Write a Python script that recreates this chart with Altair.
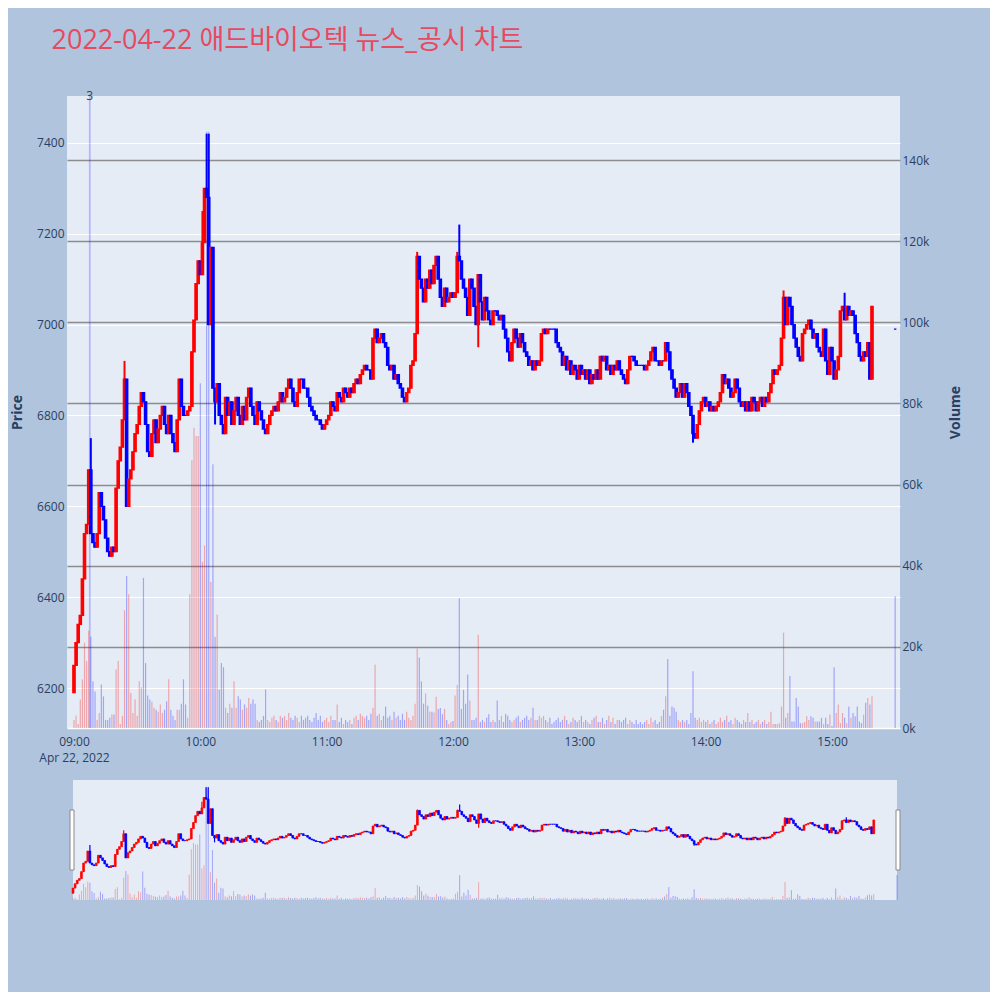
import altair as alt
import pandas as pd

title_text = "2022-04-22 애드바이오텍 뉴스_공시 차트"
session_day = "2022-04-22"
date_label = "Apr 22, 2022"

first_open = 6190
# one close per minute from 09:00 to 15:19
closes = [
    6250, 6300, 6340, 6360, 6440, 6540, 6560, 6680, 6540, 6520,
    6510, 6540, 6630, 6600, 6570, 6530, 6500, 6490, 6510, 6500,
    6640, 6700, 6730, 6790, 6880, 6600, 6660, 6680, 6720, 6760,
    6780, 6820, 6850, 6830, 6780, 6720, 6710, 6760, 6790, 6740,
    6770, 6800, 6820, 6780, 6760, 6800, 6760, 6740, 6720, 6790,
    6880, 6820, 6800, 6800, 6810, 6820, 6940, 7010, 7090, 7140,
    7110, 7180, 7300, 7280, 7000, 7170, 6860, 6830, 6870, 6800,
    6780, 6760, 6840, 6800, 6830, 6780, 6810, 6840, 6800, 6780,
    6820, 6790, 6840, 6860, 6820, 6800, 6780, 6830, 6810, 6790,
    6770, 6760, 6780, 6800, 6810, 6820, 6810, 6830, 6850, 6830,
    6840, 6860, 6880, 6860, 6830, 6820, 6850, 6880, 6880, 6860,
    6860, 6840, 6820, 6810, 6800, 6790, 6790, 6780, 6770, 6780,
    6790, 6800, 6830, 6820, 6810, 6850, 6840, 6830, 6860, 6850,
    6840, 6860, 6850, 6870, 6880, 6870, 6890, 6900, 6910, 6900,
    6900, 6880, 6970, 6990, 6960, 6970, 6980, 6960, 6950, 6910,
    6900, 6910, 6880, 6890, 6870, 6860, 6840, 6830, 6850, 6860,
    6910, 6920, 6980, 7150, 7100, 7080, 7050, 7100, 7080, 7120,
    7090, 7130, 7150, 7100, 7060, 7040, 7080, 7050, 7060, 7070,
    7060, 7070, 7150, 7140, 7100, 7080, 7060, 7020, 7100, 7080,
    7040, 7000, 7110, 7050, 7010, 7060, 7030, 7010, 7000, 7030,
    7030, 7020, 7010, 7020, 6990, 6970, 6940, 6920, 6960, 6990,
    6970, 6950, 6980, 6960, 6940, 6930, 6910, 6920, 6900, 6920,
    6910, 6920, 6980, 6990, 6980, 6990, 6990, 6990, 6990, 6960,
    6950, 6940, 6910, 6930, 6900, 6920, 6890, 6910, 6900, 6880,
    6910, 6890, 6900, 6880, 6900, 6870, 6890, 6880, 6900, 6880,
    6930, 6920, 6930, 6900, 6910, 6890, 6910, 6900, 6920, 6900,
    6890, 6880, 6870, 6900, 6930, 6930, 6920, 6910, 6910, 6910,
    6910, 6900, 6910, 6920, 6940, 6950, 6920, 6920, 6910, 6920,
    6920, 6960, 6940, 6900, 6880, 6860, 6840, 6850, 6870, 6840,
    6870, 6850, 6820, 6800, 6760, 6750, 6780, 6810, 6830, 6840,
    6820, 6830, 6810, 6820, 6810, 6820, 6830, 6850, 6890, 6870,
    6880, 6860, 6840, 6850, 6880, 6860, 6830, 6820, 6830, 6810,
    6830, 6810, 6840, 6830, 6810, 6830, 6840, 6820, 6840, 6830,
    6850, 6870, 6900, 6890, 6900, 6910, 6970, 7060, 7000, 7060,
    7040, 7000, 6970, 6950, 6930, 6920, 6980, 6990, 7000, 7010,
    6990, 6970, 6980, 6950, 6940, 6930, 6990, 6920, 6890, 6950,
    6920, 6880, 6900, 6930, 7030, 7040, 7010, 7040, 7020, 7030,
    7020, 6980, 6960, 6930, 6920, 6940, 6930, 6960, 6880, 7040,
]
# volume per minute, thousands of shares
volume_k = [
    2, 3, 1, 7, 12, 21, 16.5, 24, 22.5, 11.5,
    9, 2, 3.7, 10.7, 7.8, 2, 2, 2.5, 3.3, 3.3,
    14.4, 16.5, 1, 3, 29, 37.5, 33, 8.6, 3.7, 7,
    3, 11.5, 10, 37, 16, 8, 7, 6.5, 5, 4.5,
    4, 5.8, 3.7, 4.5, 6.6, 12, 4.5, 3, 2, 4.5,
    4.5, 6, 12, 5.8, 2.5, 33, 66, 74, 72, 72,
    85, 41, 45, 147, 147, 36, 65, 22.5, 28, 9.5,
    16, 15, 5, 3.7, 6, 5, 11.5, 5, 7.8, 7,
    4.5, 5.8, 5, 7.4, 6, 7, 6, 2, 1.5, 2,
    3, 9.5, 2, 1.5, 2.5, 3, 2, 1.5, 3, 2.5,
    3, 2, 3.7, 2.5, 2, 3, 2.5, 1.5, 3, 2,
    2.5, 3, 2, 1.5, 2.5, 3.7, 2, 3, 1.5, 2,
    2.5, 1.5, 3, 2, 2, 5.8, 1.5, 2.5, 1, 2,
    1.5, 2, 1, 2.5, 3, 2, 3.5, 3, 2.5, 3,
    2, 3.5, 5, 15.6, 3, 3.5, 2, 3, 5.3, 2.5,
    3, 2, 4, 2.5, 3, 2, 3.5, 2, 4, 2.5,
    2, 3, 6, 19.6, 17.4, 11.5, 6, 8.5, 5.5, 4,
    4, 3.8, 7.7, 4.7, 4.9, 3.4, 4.7, 2, 1, 1.5,
    1.7, 8, 10.6, 32, 4.7, 9.4, 6, 13.2, 6.8, 2,
    2, 2.5, 23, 1.5, 2, 1.5, 2.5, 3.4, 1.5, 2,
    1.5, 6.8, 2, 3, 1.5, 3.5, 3, 2, 1.5, 2,
    2.5, 3, 1.5, 2, 2.5, 3, 2, 2.5, 5, 2,
    2, 3, 2.5, 3, 2, 1.5, 2.5, 1, 1.5, 2,
    2.5, 1.5, 2, 3, 2, 1, 1.5, 2.5, 2, 1.5,
    2, 3, 1.5, 2, 1.5, 1, 2, 2.5, 3, 1.5,
    1.5, 2.5, 1, 2, 3, 1.5, 2.5, 1, 2, 2,
    1.5, 2, 2.5, 1, 2, 1.5, 1, 2, 1, 1.5,
    1, 1.5, 2, 1, 2.5, 1.5, 2, 1, 1.5, 3,
    4.5, 7.8, 17, 3, 5.3, 5, 4, 2, 1.5, 2,
    1.5, 2, 1, 3.7, 14, 2.5, 2, 2.5, 1.5, 2,
    1.5, 2, 1, 1.5, 2, 1, 1.5, 2.5, 1.5, 2,
    3, 1.5, 2, 1, 2.5, 2, 1.5, 1, 2, 1.5,
    3.7, 1.5, 2, 1, 1.5, 2, 1, 1.5, 2, 1,
    1.5, 4, 1, 1, 1, 1.2, 5.3, 23.5, 2.5, 3.7,
    12.8, 1.6, 1.6, 7.4, 5.3, 1.2, 1.2, 1.5, 2.9, 2,
    2.9, 2.5, 1.6, 1.6, 1.6, 2.5, 1, 2.5, 1, 3.3,
    0.5, 15, 3.7, 5.8, 1.2, 3.7, 2.5, 1.2, 5.3, 2.5,
    3.7, 2.9, 5.3, 1.6, 1.2, 3.3, 6.2, 7.4, 5.8, 7.8,
]
# wicks reaching beyond the body
spike_minute = [8, 24, 61, 63, 64, 163, 182, 183, 337, 366]
spike_high = [6750, 6920, 7250, 7420, 7420, 7160, 7160, 7220, 7075, 7070]
dip_minute = [67, 192, 294]
dip_low = [6780, 6950, 6740]
# closing auction
closing_time = "15:30"
closing_price = 6990
closing_volume_k = 32.5
# news markers
news_time = ["09:07:30"]
news_count = ["3"]

price_ticks = [6200, 6400, 6600, 6800, 7000, 7200, 7400]
volume_ticks = [0, 20000, 40000, 60000, 80000, 100000, 120000, 140000]
hour_ticks = [9, 10, 11, 12, 13, 14, 15]

assert len(closes) == len(volume_k)

rows = []
prev = first_open
base = pd.Timestamp(f"{session_day} 09:00")
for m, c in enumerate(closes):
    o = prev
    rows.append({"t": base + pd.Timedelta(minutes=m), "open": o, "close": c,
                 "high": max(o, c), "low": min(o, c), "volume": volume_k[m] * 1000})
    prev = c
for m, h in zip(spike_minute, spike_high):
    rows[m]["high"] = max(rows[m]["high"], h)
for m, lo in zip(dip_minute, dip_low):
    rows[m]["low"] = min(rows[m]["low"], lo)
rows.append({"t": pd.Timestamp(f"{session_day} {closing_time}"), "open": closing_price,
             "close": closing_price, "high": closing_price, "low": closing_price,
             "volume": closing_volume_k * 1000})
df = pd.DataFrame(rows)
df["dir"] = ["up" if c > o else "down" for o, c in zip(df["open"], df["close"])]

news = pd.DataFrame({"t": [pd.Timestamp(f"{session_day} {t}") for t in news_time],
                     "label": news_count})
edges = pd.DataFrame({"t0": [pd.Timestamp(f"{session_day} 09:00")],
                      "t1": [pd.Timestamp(f"{session_day} {closing_time}")]})
left_edge = pd.DataFrame({"t": [pd.Timestamp(f"{session_day} 09:00")]})
right_edge = pd.DataFrame({"t": [pd.Timestamp(f"{session_day} {closing_time}")]})

FONT = "Open Sans, Noto Sans CJK KR, sans-serif"
TXT = "#2a3f5f"
color = alt.Color("dir:N", scale=alt.Scale(domain=["up", "down"], range=["#ff0000", "#0000ff"]),
                  legend=None)

def dt(h, mi, s=0):
    return alt.DateTime(year=2022, month=4, date=22, hours=h, minutes=mi, seconds=s)

x_axis = alt.Axis(
    values=[dt(h, 0) for h in hour_ticks],
    labelExpr=f"hours(datum.value) == 9 ? [timeFormat(datum.value, '%H:%M'), '{date_label}'] : timeFormat(datum.value, '%H:%M')",
    ticks=False, domain=False, grid=False, labelPadding=8, labelLineHeight=16,
    labelColor=TXT, labelFont=FONT, labelFontSize=12, labelOverlap=False, title=None,
)
x_main = alt.X("t:T", scale=alt.Scale(domain=[dt(8, 56, 41), dt(15, 32, 18)], padding=0),
               axis=x_axis)

price_scale = alt.Scale(domain=[6112, 7503], nice=False, zero=False)
vol_scale = alt.Scale(domain=[0, 155800], nice=False)

price_axis = alt.Axis(
    orient="left", values=price_ticks, format="d", title="Price", grid=True,
    gridColor="#ffffff", gridWidth=1, ticks=False, domain=False, labelPadding=3,
    labelColor=TXT, labelFont=FONT, labelFontSize=12, titleColor=TXT, titleFont=FONT,
    titleFontSize=14, titleFontWeight="bold", titlePadding=12,
)
vol_axis = alt.Axis(
    orient="right", values=volume_ticks, format="~s", title="Volume", grid=True,
    gridColor={"condition": {"test": "datum.value === 0", "value": "#ffffff"}, "value": "#8c8c8c"},
    gridWidth=1.3, ticks=False, domain=False, labelPadding=2,
    labelColor=TXT, labelFont=FONT, labelFontSize=12, titleColor=TXT, titleFont=FONT,
    titleFontSize=14, titleFontWeight="bold", titleAngle=270, titlePadding=34,
)

vol_layer = alt.Chart(df).mark_bar(size=1.2, opacity=0.3).encode(
    x=x_main, y=alt.Y("volume:Q", scale=vol_scale, axis=vol_axis), color=color)

news_rule = alt.Chart(news).mark_rule(color="#0000ff", opacity=0.22, strokeWidth=1.8).encode(x=x_main)
news_text = alt.Chart(news).mark_text(baseline="middle", fontSize=12, font=FONT, color=TXT).encode(
    x=x_main, y=alt.value(0), text="label:N")

wick = alt.Chart(df).mark_rule(strokeWidth=2).encode(
    x=x_main, y=alt.Y("low:Q", scale=price_scale, axis=price_axis), y2="high:Q", color=color)
body = alt.Chart(df).mark_bar(size=2.4, strokeWidth=1.2).encode(
    x=x_main, y=alt.Y("open:Q", scale=price_scale, axis=price_axis), y2="close:Q",
    color=color, stroke=color)
price_layer = alt.layer(wick, body)

main = alt.layer(vol_layer, price_layer, news_rule, news_text).resolve_scale(
    y="independent").properties(width=833, height=632,
                                view=alt.ViewBackground(fill="#E5ECF6", strokeWidth=0))

# range slider
sl_xscale = alt.Scale(domain=[dt(9, 0), dt(15, 30)], range=[6, 830], padding=0)
x_sl = alt.X("t:T", scale=sl_xscale, axis=None)
sl_bg = alt.Chart(edges).mark_rect(color="#E5ECF6").encode(
    x=alt.X("t0:T", scale=sl_xscale, axis=None), x2="t1:T")
sl_vol = alt.Chart(df).mark_bar(size=1, opacity=0.3).encode(
    x=x_sl, y=alt.Y("volume:Q", scale=vol_scale, axis=None), color=color)
sl_wick = alt.Chart(df).mark_rule(strokeWidth=1.2).encode(
    x=x_sl, y=alt.Y("low:Q", scale=price_scale, axis=None), y2="high:Q", color=color)
sl_body = alt.Chart(df).mark_bar(size=1.8, strokeWidth=0.7).encode(
    x=x_sl, y=alt.Y("open:Q", scale=price_scale, axis=None), y2="close:Q",
    color=color, stroke=color)
sl_price = alt.layer(sl_wick, sl_body)
h_left = alt.Chart(left_edge).mark_rect(fill="#ffffff", stroke="#8a8a8a", strokeWidth=1,
                                        xOffset=-3, x2Offset=1).encode(
    x=x_sl, x2="t:T", y=alt.value(30), y2=alt.value(90))
h_right = alt.Chart(right_edge).mark_rect(fill="#ffffff", stroke="#8a8a8a", strokeWidth=1,
                                          xOffset=-1, x2Offset=3).encode(
    x=x_sl, x2="t:T", y=alt.value(30), y2=alt.value(90))
slider = alt.layer(sl_bg, sl_vol, sl_price, h_left, h_right).resolve_scale(
    y="independent").properties(width=833, height=120)

chart = alt.vconcat(main, slider, spacing=52, bounds="flush").properties(
    title=alt.TitleParams(text=title_text, anchor="start", frame="bounds", fontSize=27,
                          font=FONT, color="#e8495f", fontWeight="normal", offset=35, dx=41),
    padding={"left": 2, "top": 19, "right": 27, "bottom": 92},
    background="#B0C4DE",
).configure_view(strokeWidth=0)

chart.save("out.html", embed_options={"renderer": "svg", "actions": False})
